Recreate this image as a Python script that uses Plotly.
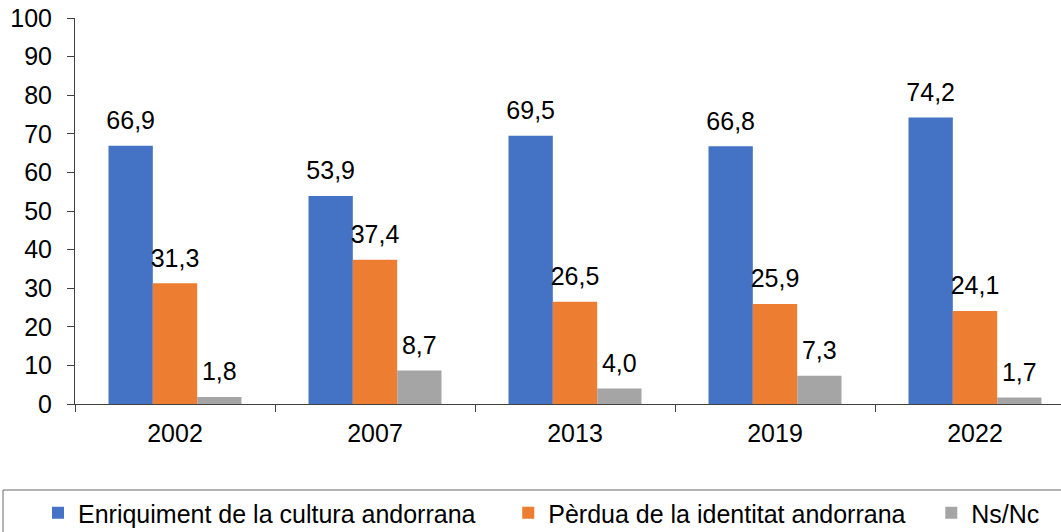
import plotly.graph_objects as go

years = ["2002", "2007", "2013", "2019", "2022"]
series_names = ["Enriquiment de la cultura andorrana", "Pèrdua de la identitat andorrana", "Ns/Nc"]
enriquiment = [66.9, 53.9, 69.5, 66.8, 74.2]
perdua = [31.3, 37.4, 26.5, 25.9, 24.1]
nsnc = [1.8, 8.7, 4.0, 7.3, 1.7]
colors = ["#4472C4", "#ED7D31", "#A5A5A5"]

FONT = "Liberation Sans"
FS = 25
W, H = 1061, 532
ML, MR, MT, MB = 75, 0, 18, 128
plot_w = W - ML - MR
plot_h = H - MT - MB

NB = "\u00a0"
legend_pad = [4, 3, 0]

fig = go.Figure()
for i, (name, vals) in enumerate(zip(series_names, [enriquiment, perdua, nsnc])):
    fig.add_trace(go.Bar(
        x=years, y=vals, name=name + NB * legend_pad[i], marker_color=colors[i],
        marker_line_width=0, offsetgroup=str(i), hoverinfo="skip",
    ))
for i, vals in enumerate([enriquiment, perdua, nsnc]):
    fig.add_trace(go.Scatter(
        x=years, y=vals, mode="markers+text", offsetgroup=str(i),
        text=[f"{v:.1f}".replace(".", ",") for v in vals],
        textposition="top center",
        textfont=dict(family=FONT, size=FS, color="#000000"),
        marker=dict(size=15, opacity=0), showlegend=False, hoverinfo="skip",
        cliponaxis=False,
    ))

def px_x(p):
    return (p - ML) / plot_w

def px_y(p):
    return (H - MB - p) / plot_h

fig.add_shape(type="rect", xref="paper", yref="paper",
              x0=px_x(3), x1=px_x(1100), y0=px_y(490), y1=px_y(560),
              line=dict(color="#666666", width=1), fillcolor="rgba(0,0,0,0)")

fig.update_layout(
    width=W, height=H,
    margin=dict(l=ML, r=MR, t=MT, b=MB, autoexpand=False),
    paper_bgcolor="white", plot_bgcolor="white",
    barmode="group", bargap=0.335, bargroupgap=0,
    scattermode="group", scattergap=0.335,
    font=dict(family=FONT, size=FS, color="#000000"),
    showlegend=True,
    legend=dict(orientation="h", x=px_x(38), xanchor="left",
                y=px_y(513), yanchor="middle",
                font=dict(family=FONT, size=FS, color="#000000"),
                bgcolor="rgba(0,0,0,0)", traceorder="normal"),
    xaxis=dict(type="category", range=[-0.5, 4.43], showline=True,
               linecolor="#404040", linewidth=1, ticks="outside",
               tickson="boundaries", ticklen=7, tickcolor="#404040",
               showgrid=False, ticklabelstandoff=7),
    yaxis=dict(range=[0, 100], dtick=10, showline=True, linecolor="#404040",
               linewidth=1, ticks="outside", ticklen=7, tickcolor="#404040",
               showgrid=False, zeroline=False, ticklabelstandoff=10),
)

fig.write_html("out.html", config={"displayModeBar": False},
               post_script="document.body.style.margin='0px';document.body.style.overflow='hidden';")
